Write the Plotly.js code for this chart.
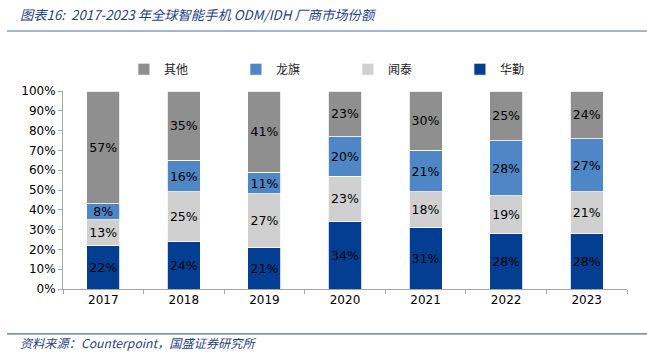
<!DOCTYPE html>
<html>
<head>
<meta charset="utf-8">
<script src="https://cdn.plot.ly/plotly-3.0.1.min.js"></script>
<style>html,body{margin:0;padding:0;background:#fff;}#chart{width:647px;height:352px;}</style>
</head>
<body>
<div id="chart"></div>
<script>
const years = ['2017','2018','2019','2020','2021','2022','2023'];
const huaqin = [22,24,21,34,31,28,28];
const wingtech = [13,25,27,23,18,19,21];
const longcheer = [8,16,11,20,21,28,27];
const others = [57,35,41,23,30,25,24];
const seriesNames = ['华勤','闻泰','龙旗','其他'];
const seriesColors = ['#033E92','#D0D0D0','#4F86C6','#8F8F8F'];
const seriesValues = [huaqin, wingtech, longcheer, others];
const yTickVals = [0,10,20,30,40,50,60,70,80,90,100];
const yTickText = yTickVals.map(v => v + '%');

const traces = seriesValues.map((vals, i) => ({
  type: 'bar',
  name: seriesNames[i],
  x: years,
  y: vals,
  marker: {color: seriesColors[i], line: {color: '#FFFFFF', width: 0.8}},
  text: vals.map(v => v + '%'),
  texttemplate: '%{text}',
  textposition: 'inside',
  insidetextanchor: 'middle',
  constraintext: 'none',
  textangle: 0,
  textfont: {family: 'DejaVu Sans, Verdana, sans-serif', size: 12.5, color: '#000'},
  hoverinfo: 'skip'
}));

const font = 'DejaVu Sans, Verdana, sans-serif';
const layout = {
  width: 647, height: 352,
  margin: {l: 63, r: 20, t: 91, b: 63},
  barmode: 'stack',
  bargap: 0.59,
  paper_bgcolor: '#fff', plot_bgcolor: '#fff',
  showlegend: true,
  legend: {
    orientation: 'h', traceorder: 'reversed',
    x: 0.108, xanchor: 'left', y: 1.11, yanchor: 'middle',
    entrywidth: 67, entrywidthmode: 'pixels',
    font: {family: 'Noto Sans CJK SC, sans-serif', size: 12, color: '#222'},
    itemclick: false
  },
  xaxis: {
    type: 'category', showgrid: false, zeroline: false,
    showline: true, linecolor: '#A6A6A6', linewidth: 1,
    ticks: 'outside', ticklen: 4, tickcolor: '#A6A6A6', tickson: 'boundaries',
    tickfont: {family: font, size: 12, color: '#000'}
  },
  yaxis: {
    range: [0, 100], tickvals: yTickVals, ticktext: yTickText,
    showgrid: false, zeroline: false,
    showline: true, linecolor: '#A6A6A6', linewidth: 1,
    ticks: 'outside', ticklen: 4, tickcolor: '#A6A6A6',
    tickfont: {family: font, size: 12, color: '#000'}
  },
  shapes: [
    {type: 'line', xref: 'paper', yref: 'paper', x0: -0.0993, x1: 1.04, y0: 1.303, y1: 1.303, line: {color: '#4A6BAF', width: 1.2}},
    {type: 'line', xref: 'paper', yref: 'paper', x0: -0.0993, x1: 1.04, y0: -0.227, y1: -0.227, line: {color: '#4A6BAF', width: 1.2}}
  ],
  annotations: [
    {xref: 'paper', yref: 'paper', x: -0.08, y: 1.384, xanchor: 'left', yanchor: 'middle', showarrow: false,
     text: '<i>图表16:  2017-2023 年全球智能手机 ODM/IDH 厂商市场份额</i>',
     font: {family: 'Noto Sans CJK SC, sans-serif', size: 13.3, color: '#1F3F8F'}},
    {xref: 'paper', yref: 'paper', x: -0.08, y: -0.272, xanchor: 'left', yanchor: 'middle', showarrow: false,
     text: '<i>资料来源：Counterpoint，国盛证券研究所</i>',
     font: {family: 'Noto Sans CJK SC, sans-serif', size: 12.2, color: '#1F3F8F'}}
  ]
};

Plotly.newPlot('chart', traces, layout, {displayModeBar: false, staticPlot: true});
</script>
</body>
</html>
